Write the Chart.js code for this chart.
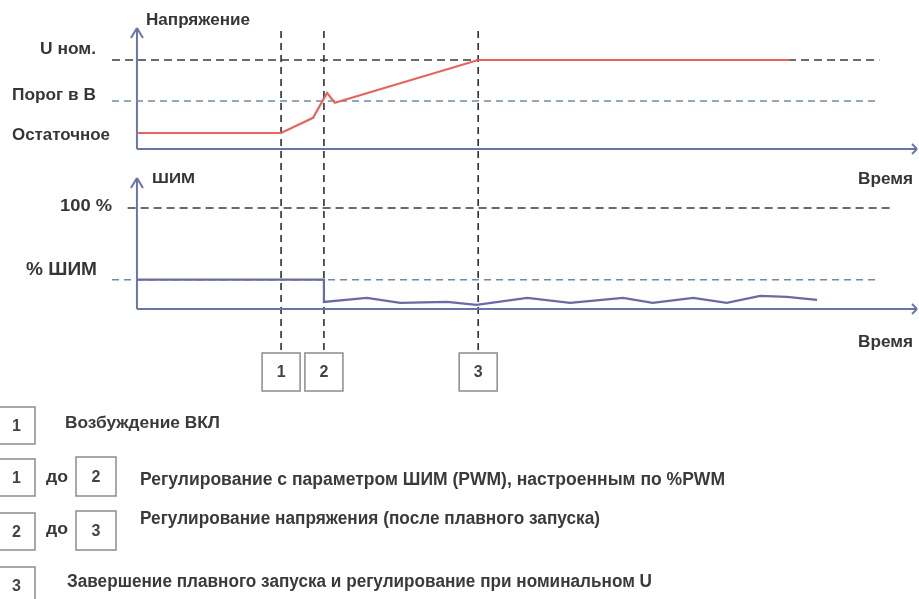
<!DOCTYPE html>
<html><head><meta charset="utf-8">
<script src="https://cdn.jsdelivr.net/npm/chart.js@4.4.1/dist/chart.umd.min.js"></script>
<style>html,body{margin:0;padding:0;background:#fff;} #wrap{position:relative;width:919px;height:599px;}</style>
</head><body><div id="wrap"><canvas id="c" width="919" height="599"></canvas></div>
<script>
// ---------- data ----------
const TIME_U = [0, 18.5, 22.6, 24.4, 25.4, 43.8, 83.8];
const VOLTAGE = [18, 18, 35, 63, 52, 100, 100];
const TIME_PWM = [0, 24.0, 24.0, 29.5, 33.8, 39.8, 43.6, 50.1, 55.6, 62.4, 66.2, 71.4, 75.7, 80.0, 83.4, 87.3];
const PWM = [29, 29, 7, 11, 6, 7, 4, 11, 6, 11, 6, 11, 6, 13, 12, 9];
const EVENT_TIMES = [18.5, 24.0, 43.8];
const EVENT_LABELS = ['1', '2', '3'];
const U_LABEL_VALUES = [100, 54, 18];
const U_LABELS = ['U ном.', 'Порог в В', 'Остаточное'];
const PWM_LABEL_VALUES = [100, 29];
const PWM_LABELS = ['100 %', '% ШИМ'];
const AXIS_TITLES = ['Напряжение', 'ШИМ', 'Время'];
const LEGEND_FROM = ['1', '1', '2', '3'];
const LEGEND_TO = ['', '2', '3', ''];
const LEGEND_JOIN = 'до';
const LEGEND_TEXTS = [
  'Возбуждение ВКЛ',
  'Регулирование с параметром ШИМ (PWM), настроенным по %PWM',
  'Регулирование напряжения (после плавного запуска)',
  'Завершение плавного запуска и регулирование при номинальном U'
];

// ---------- layout / style ----------
const FONT = '"Liberation Sans", Arial, sans-serif';
const X_MIN = -5, X_MAX = 100;
const U_BASE = 149, U_K = 0.89;   // pixel of 0 V, px per unit
const P_BASE = 309, P_K = 1.01;
const H = 599;
const REF_START = -3.2, REF_END = 95.3;
const AXIS_COLOR = '#6b74a8';

function pts(xs, ys) { return xs.map((x, i) => ({x: x, y: ys[i]})); }
function refLine(y, x0, x1) { return [{x: x0, y: y}, {x: x1, y: y}]; }

const datasets = [
  {data: pts(TIME_U, VOLTAGE), yAxisID: 'yU', borderColor: '#e4655f', borderWidth: 2.2, order: 0},
  {data: pts(TIME_PWM, PWM), yAxisID: 'yP', borderColor: '#6a6aa4', borderWidth: 2.2, order: 0},
  {data: refLine(U_LABEL_VALUES[0], REF_START, REF_END), yAxisID: 'yU', borderColor: '#3a3a3a', borderWidth: 1.6, borderDash: [8, 5], order: 5},
  {data: refLine(U_LABEL_VALUES[1], REF_START, REF_END), yAxisID: 'yU', borderColor: '#6e8ca6', borderWidth: 1.5, borderDash: [7, 5], order: 5},
  {data: refLine(PWM_LABEL_VALUES[0], -1.2, 97.0), yAxisID: 'yP', borderColor: '#3a3a3a', borderWidth: 1.6, borderDash: [8, 5], order: 5},
  {data: refLine(PWM_LABEL_VALUES[1], REF_START, REF_END), yAxisID: 'yP', borderColor: '#6e8ca6', borderWidth: 1.5, borderDash: [7, 5], order: 5}
].map(d => Object.assign({pointRadius: 0, tension: 0, fill: false, clip: false}, d));

function fitText(ctx, text, x, y, w, size, bold, color) {
  ctx.save();
  ctx.font = (bold ? 'bold ' : '') + size + 'px ' + FONT;
  ctx.fillStyle = color; ctx.textBaseline = 'middle'; ctx.textAlign = 'left';
  const m = ctx.measureText(text).width;
  ctx.translate(x, y); ctx.scale(w / m, 1); ctx.fillText(text, 0, 0);
  ctx.restore();
}
function box(ctx, x, y, w, h, label) {
  ctx.save();
  ctx.fillStyle = '#fff'; ctx.fillRect(x, y, w, h);
  ctx.strokeStyle = '#8c8c8c'; ctx.lineWidth = 1.5; ctx.strokeRect(x, y, w, h);
  ctx.font = 'bold 16px ' + FONT; ctx.fillStyle = '#444';
  ctx.textAlign = 'center'; ctx.textBaseline = 'middle';
  ctx.fillText(label, x + w / 2, y + h / 2 + 1);
  ctx.restore();
}
function line(ctx, x0, y0, x1, y1) { ctx.beginPath(); ctx.moveTo(x0, y0); ctx.lineTo(x1, y1); ctx.stroke(); }

const decor = {
  id: 'decor',
  beforeDatasetsDraw(chart) {
    const ctx = chart.ctx, xs = chart.scales.x, yU = chart.scales.yU, yP = chart.scales.yP;
    const x0 = xs.getPixelForValue(0), xEnd = chart.chartArea.right;
    ctx.save();
    ctx.strokeStyle = '#2e2e2e'; ctx.lineWidth = 1.6; ctx.setLineDash([7, 5]);
    EVENT_TIMES.forEach(t => { const px = xs.getPixelForValue(t); line(ctx, px, 31, px, 350); });
    ctx.restore();
    ctx.save();
    ctx.strokeStyle = AXIS_COLOR; ctx.lineWidth = 2;
    [[yU, 28], [yP, 178]].forEach(([sc, top]) => {
      const by = sc.getPixelForValue(0);
      line(ctx, x0, by, x0, top);
      line(ctx, x0 - 6, top + 10, x0, top); line(ctx, x0 + 6, top + 10, x0, top);
      line(ctx, x0, by, xEnd, by);
      line(ctx, xEnd - 4, by - 5, xEnd + 1, by); line(ctx, xEnd - 4, by + 5, xEnd + 1, by);
    });
    ctx.restore();
  },
  afterDraw(chart) {
    const ctx = chart.ctx, xs = chart.scales.x, yU = chart.scales.yU, yP = chart.scales.yP;
    const TXT = '#363636';
    fitText(ctx, AXIS_TITLES[0], 146, 21, 104, 16, true, TXT);
    fitText(ctx, AXIS_TITLES[1], 152, 179, 43, 15, true, TXT);
    fitText(ctx, AXIS_TITLES[2], 858, 179, 55, 17, true, TXT);
    fitText(ctx, AXIS_TITLES[2], 858, 342, 55, 17, true, TXT);
    const uPos = [[40, -11, 56], [12, -6, 84], [12, 2, 98]];
    U_LABELS.forEach((s, i) => fitText(ctx, s, uPos[i][0], yU.getPixelForValue(U_LABEL_VALUES[i]) + uPos[i][1], uPos[i][2], 17, true, TXT));
    const pPos = [[60, -1, 52, 16], [26, -10, 71, 18]];
    PWM_LABELS.forEach((s, i) => fitText(ctx, s, pPos[i][0], yP.getPixelForValue(PWM_LABEL_VALUES[i]) + pPos[i][1], pPos[i][2], pPos[i][3], true, TXT));
    EVENT_TIMES.forEach((t, i) => { const px = xs.getPixelForValue(t); box(ctx, px - 19, 353, 38, 38, EVENT_LABELS[i]); });
    const rowBoxY = [407, 459, 513, 567], joinY = [0, 478, 530, 0], toY = [0, 457, 511, 0];
    const textX = [65, 140, 140, 67], textY = [423, 480, 519, 582], textW = [155, 585, 460, 585];
    const textSize = [17, 18, 18, 18];
    LEGEND_TEXTS.forEach((s, i) => {
      box(ctx, -2, rowBoxY[i], 37, 37, LEGEND_FROM[i]);
      if (LEGEND_TO[i]) {
        fitText(ctx, LEGEND_JOIN, 46, joinY[i], 22, 16, true, TXT);
        box(ctx, 76, toY[i], 40, 39, LEGEND_TO[i]);
      }
      fitText(ctx, s, textX[i], textY[i], textW[i], textSize[i], true, '#3a3a3a');
    });
  }
};

new Chart(document.getElementById('c'), {
  type: 'line',
  data: {datasets: datasets},
  options: {
    responsive: false, animation: false, events: [],
    layout: {padding: {left: 98, right: 3, top: 0, bottom: 0}},
    plugins: {legend: {display: false}, tooltip: {enabled: false}},
    scales: {
      x: {type: 'linear', min: X_MIN, max: X_MAX, display: false},
      yU: {type: 'linear', position: 'left', display: false, min: (U_BASE - H) / U_K, max: U_BASE / U_K},
      yP: {type: 'linear', position: 'left', display: false, min: (P_BASE - H) / P_K, max: P_BASE / P_K}
    }
  },
  plugins: [decor]
});
</script></body></html>
